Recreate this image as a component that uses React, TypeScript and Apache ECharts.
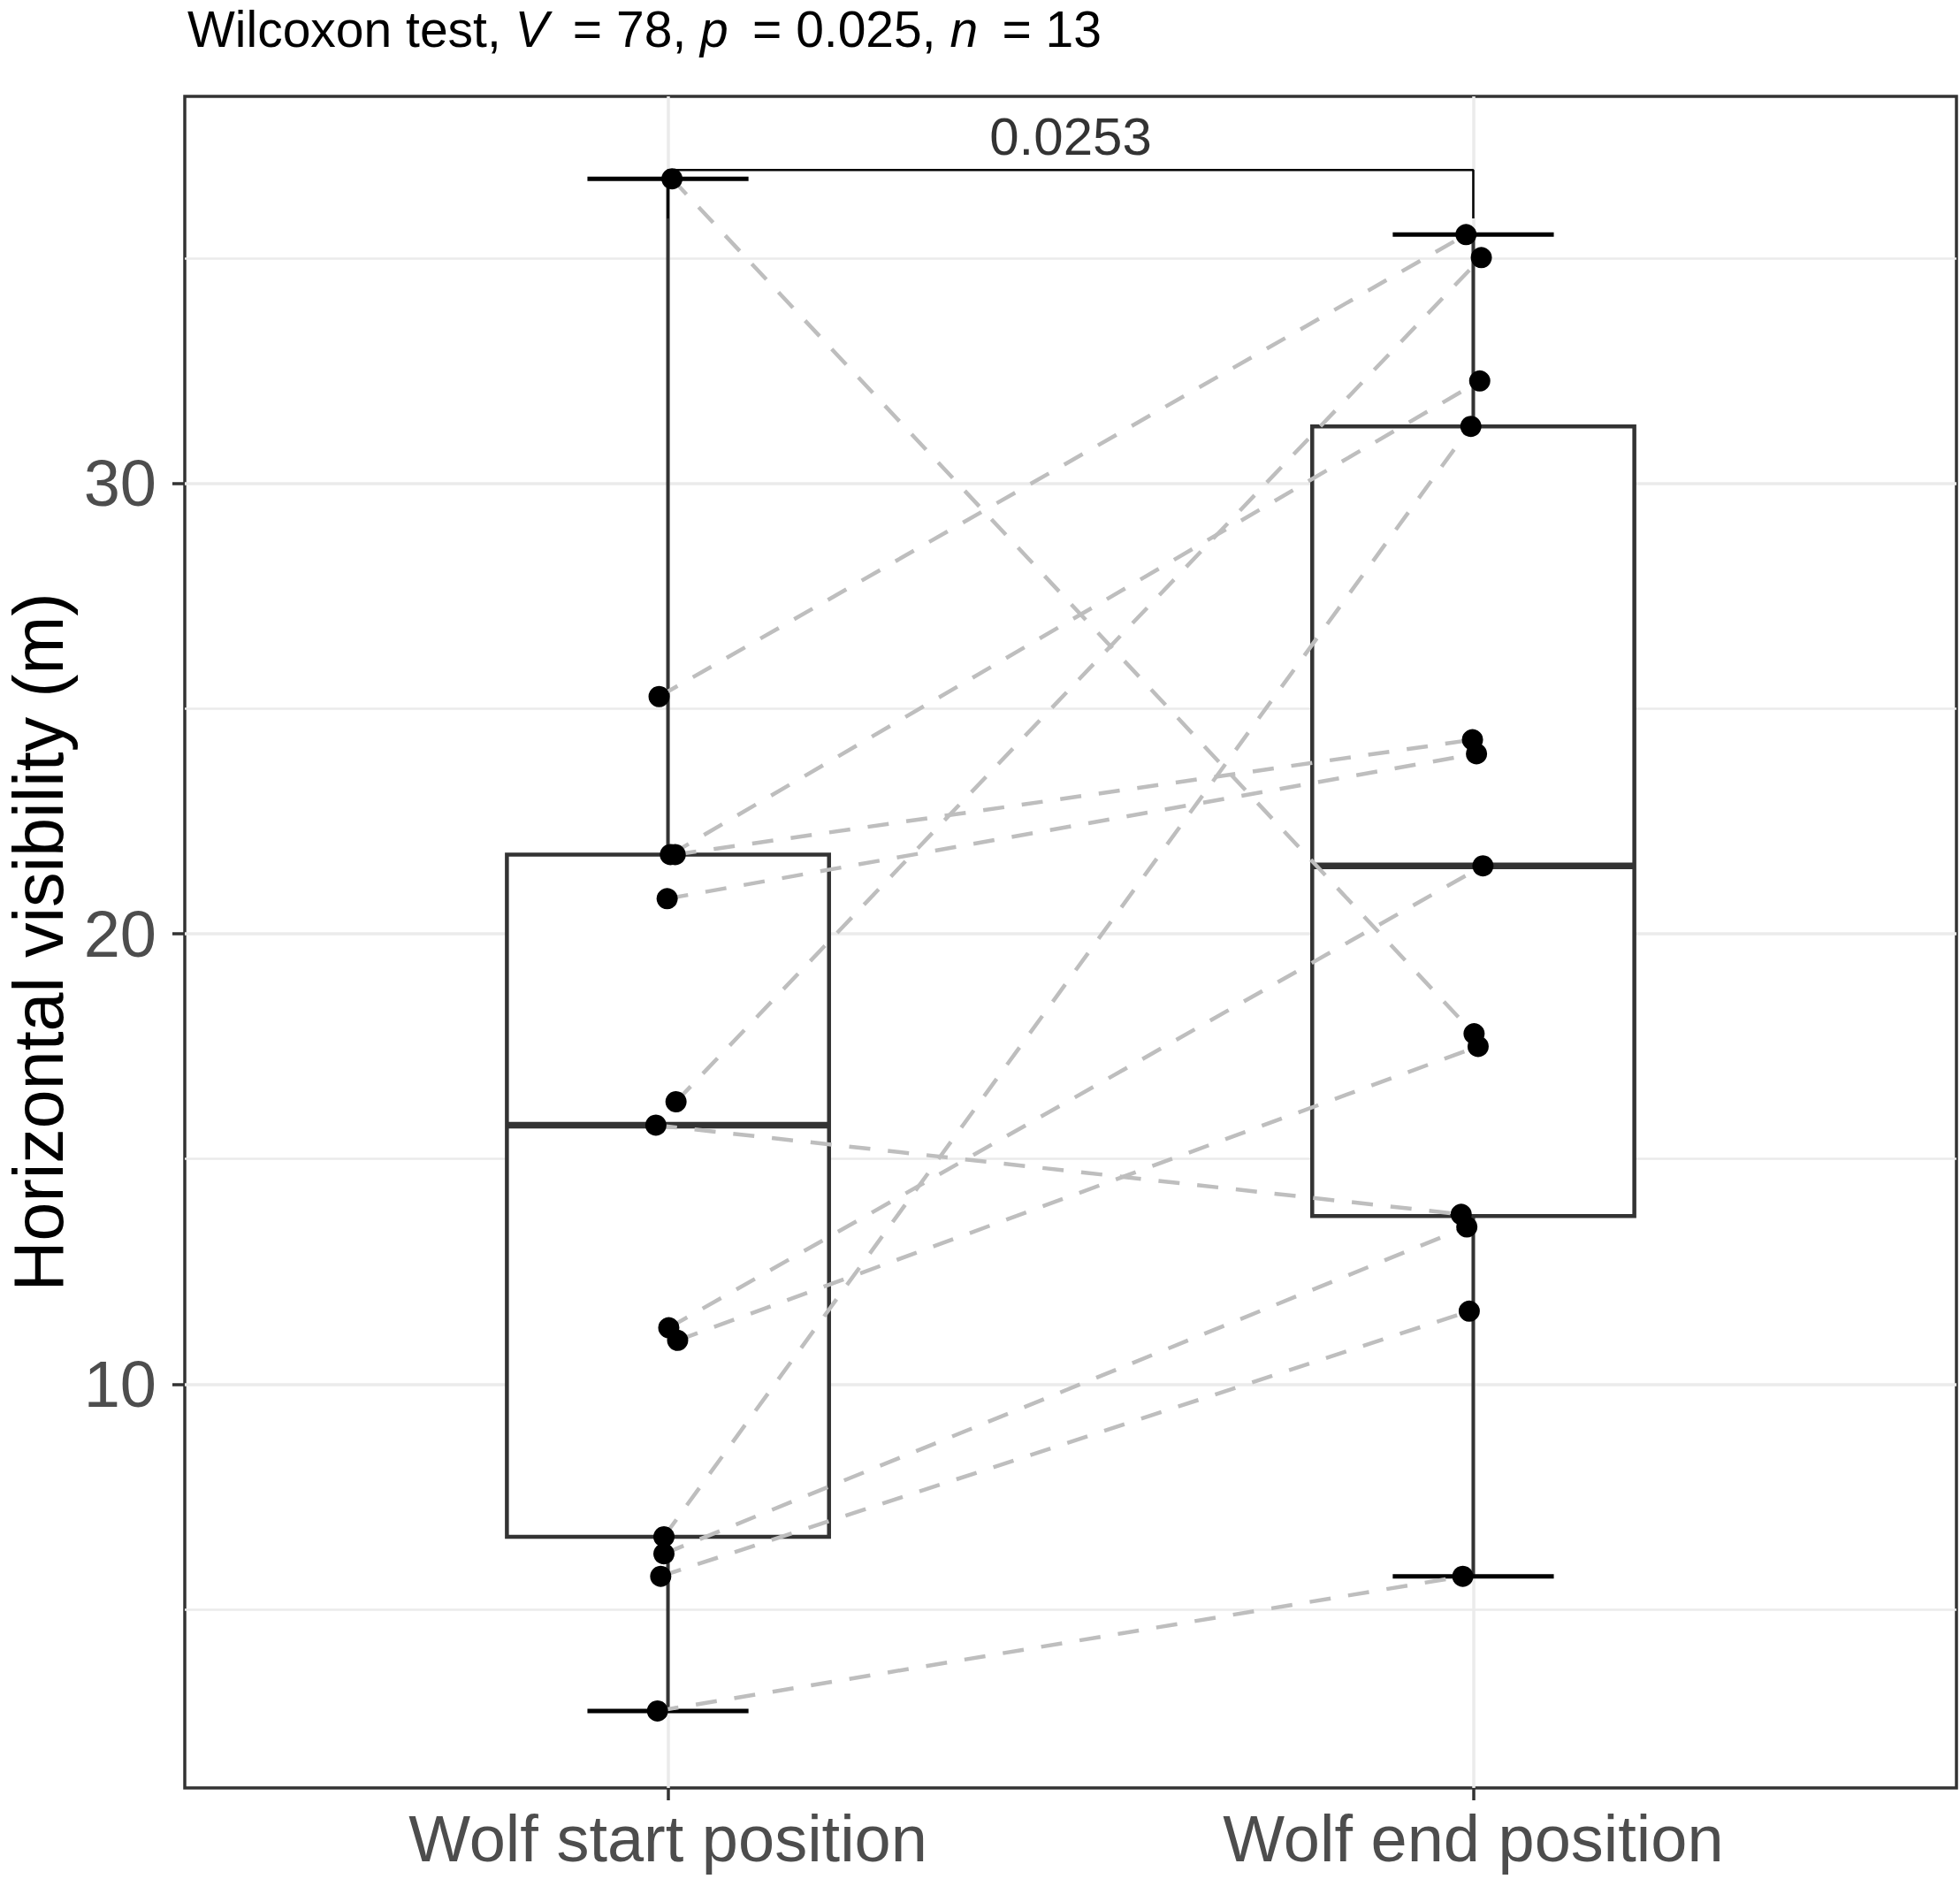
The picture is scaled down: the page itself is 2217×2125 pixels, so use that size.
import React, { useEffect, useRef } from "react";
import * as echarts from "echarts";

// ---- data ----
const categories = ["Wolf start position", "Wolf end position"];
// paired observations (same index = same wolf)
const startValues = [36.77, 25.27, 21.76, 21.76, 20.78, 16.27, 15.75, 11.25, 10.97, 6.61, 6.23, 5.73, 2.74];
const endValues = [17.78, 35.53, 32.28, 24.31, 24.0, 35.02, 13.77, 21.51, 17.5, 31.27, 13.49, 11.62, 5.73];
// horizontal jitter of the points (in category units)
const startJitter = [0.005, -0.011, 0.003, 0.009, -0.001, 0.01, -0.015, 0.001, 0.012, -0.005, -0.005, -0.009, -0.013];
const endJitter = [0.001, -0.009, 0.008, -0.001, 0.004, 0.01, -0.015, 0.012, 0.006, -0.003, -0.008, -0.005, -0.013];
// box statistics: [lower whisker, Q1, median, Q3, upper whisker]
const startBox = [2.74, 6.61, 15.75, 21.76, 36.77];
const endBox = [5.73, 13.73, 21.51, 31.27, 35.53];
const yMajorTicks = [10, 20, 30];
const yMinorTicks = [5, 15, 25, 35];
const xTicks = [1, 2];
const bracketY = 36.965;
const bracketTipY = 35.89;
const bracketLabel = "0.0253";
const yRange = [1.03, 38.6];
const xRange = [0.4, 2.6];

const FONT = "'Liberation Sans', Arial, Helvetica, sans-serif";
const TS = "\u2009";

export default function App() {
  const ref = useRef<HTMLDivElement>(null);
  useEffect(() => {
    if (!ref.current) return;
    const chart = echarts.init(ref.current, undefined, { renderer: "svg" });

    const gridLines: any[] = [];
    yMinorTicks.forEach((v) => gridLines.push({ yAxis: v, lineStyle: { width: 2.5 } }));
    yMajorTicks.forEach((v) => gridLines.push({ yAxis: v, lineStyle: { width: 3.5 } }));
    xTicks.forEach((v) => gridLines.push({ xAxis: v, lineStyle: { width: 3.5 } }));

    const pairLines = startValues.map((s, i) => ({
      coords: [
        [1 + startJitter[i], s],
        [2 + endJitter[i], endValues[i]],
      ],
    }));
    const points: number[][] = [];
    startValues.forEach((s, i) => points.push([1 + startJitter[i], s]));
    endValues.forEach((e, i) => points.push([2 + endJitter[i], e]));

    const option: any = {
      animation: false,
      backgroundColor: "#ffffff",
      textStyle: { fontFamily: FONT },
      grid: {
        left: 209,
        top: 109,
        width: 2004,
        height: 1913,
        show: true,
        borderColor: "#333333",
        borderWidth: 3.5,
        backgroundColor: "transparent",
      },
      xAxis: {
        type: "value",
        min: xRange[0],
        max: xRange[1],
        axisLine: { show: false },
        splitLine: { show: false },
        axisTick: {
          show: true,
          customValues: xTicks,
          length: 14,
          lineStyle: { color: "#333333", width: 3.5 },
        },
        axisLabel: {
          customValues: xTicks,
          formatter: (v: number) => categories[Math.round(v) - 1] || "",
          fontSize: 74,
          color: "#4D4D4D",
          fontFamily: FONT,
          margin: 20,
        },
      },
      yAxis: {
        type: "value",
        min: yRange[0],
        max: yRange[1],
        axisLine: { show: false },
        splitLine: { show: false },
        axisTick: {
          show: true,
          customValues: yMajorTicks,
          length: 14,
          lineStyle: { color: "#333333", width: 3.5 },
        },
        axisLabel: {
          customValues: yMajorTicks,
          formatter: (v: number) => String(v),
          fontSize: 74,
          color: "#4D4D4D",
          fontFamily: FONT,
          margin: 32,
        },
      },
      graphic: [
        {
          type: "text",
          x: 212,
          y: 33,
          style: {
            text:
              "{a|Wilcoxon test, }{i|V}{a|" + TS + " = 78, }{i|p}{a|" + TS + " = 0.025, }{i|n}{a|" + TS + " = 13}",
            fontSize: 57,
            fontFamily: FONT,
            fill: "#000",
            verticalAlign: "middle",
            align: "left",
            rich: {
              a: { fontSize: 57, fontFamily: FONT, fill: "#000" },
              i: { fontSize: 57, fontFamily: FONT, fontStyle: "italic", fill: "#000" },
            },
          },
        },
        {
          type: "text",
          x: 43,
          y: 1065.5,
          rotation: Math.PI / 2,
          style: {
            text: "Horizontal visibility (m)",
            fontSize: 79,
            lineHeight: 79,
            fontFamily: FONT,
            fill: "#000",
            align: "center",
            verticalAlign: "middle",
          },
        },
      ],
      series: [
        {
          type: "line",
          name: "grid",
          z: 1,
          data: [],
          markLine: {
            z: 1,
            silent: true,
            symbol: ["none", "none"],
            label: { show: false },
            lineStyle: { color: "#EBEBEB", type: "solid" },
            data: gridLines,
          },
        },
        {
          type: "custom",
          name: "box",
          z: 10,
          encode: { x: 0, y: [1, 2, 3, 4, 5] },
          data: [
            [1, ...startBox],
            [2, ...endBox],
          ],
          renderItem: (params: any, api: any) => {
            const x = api.value(0);
            const mn = api.value(1);
            const q1 = api.value(2);
            const md = api.value(3);
            const q3 = api.value(4);
            const mx = api.value(5);
            const c = (xx: number, v: number) => api.coord([xx, v]);
            const tl = c(x - 0.2, q3);
            const br = c(x + 0.2, q1);
            const ln = (a: number[], b: number[], w: number, col: string) => ({
              type: "line",
              shape: { x1: a[0], y1: a[1], x2: b[0], y2: b[1] },
              style: { stroke: col, lineWidth: w, lineCap: "butt" },
            });
            return {
              type: "group",
              children: [
                ln(c(x, q3), c(x, mx), 4, "#333333"),
                ln(c(x, q1), c(x, mn), 4, "#333333"),
                ln(c(x - 0.1, mx), c(x + 0.1, mx), 5, "#000000"),
                ln(c(x - 0.1, mn), c(x + 0.1, mn), 5, "#000000"),
                {
                  type: "rect",
                  shape: { x: tl[0], y: tl[1], width: br[0] - tl[0], height: br[1] - tl[1] },
                  style: { fill: "#ffffff", stroke: "#333333", lineWidth: 4.5 },
                },
                ln(c(x - 0.2, md), c(x + 0.2, md), 7.5, "#333333"),
              ],
            };
          },
        },
        {
          type: "lines",
          name: "pairs",
          coordinateSystem: "cartesian2d",
          z: 11,
          silent: true,
          data: pairLines,
          lineStyle: { color: "#BEBEBE", width: 4.5, type: [24, 20], opacity: 1, curveness: 0 },
        },
        {
          type: "scatter",
          name: "points",
          z: 12,
          symbol: "circle",
          symbolSize: 24,
          itemStyle: { color: "#000000", opacity: 1 },
          data: points,
        },
        {
          type: "line",
          name: "bracket",
          z: 13,
          symbol: "none",
          lineStyle: { color: "#000000", width: 2.5 },
          data: [
            [1, bracketTipY],
            [1, bracketY],
            [2, bracketY],
            [2, bracketTipY],
          ],
        },
        {
          type: "scatter",
          name: "bracketLabel",
          z: 14,
          symbolSize: 1,
          itemStyle: { color: "rgba(0,0,0,0)" },
          data: [[1.5, bracketY]],
          label: {
            show: true,
            position: "top",
            distance: 7,
            formatter: bracketLabel,
            fontSize: 60,
            fontFamily: FONT,
            color: "#000000",
          },
        },
      ],
    };
    chart.setOption(option);
    return () => chart.dispose();
  }, []);
  return (
    <div
      ref={ref}
      style={{ position: "absolute", left: 0, top: 0, width: 2217, height: 2125, background: "#fff" }}
    />
  );
}
